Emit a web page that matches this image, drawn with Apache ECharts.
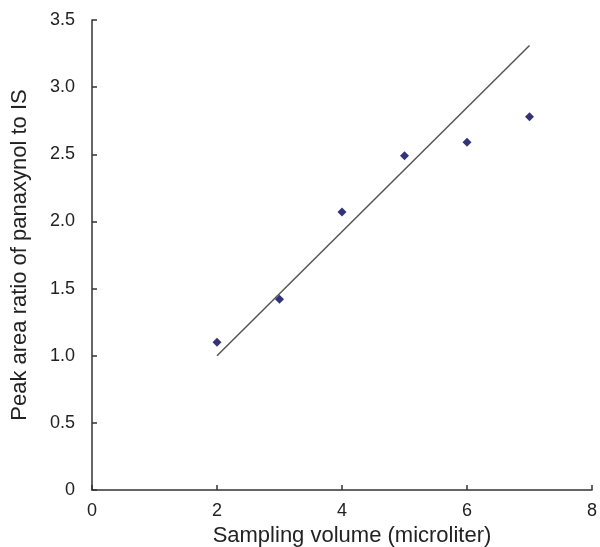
<!DOCTYPE html>
<html>
<head>
<meta charset="utf-8">
<script src="https://cdn.jsdelivr.net/npm/echarts@6/dist/echarts.min.js"></script>
<style>
  html, body { margin: 0; padding: 0; background: #fff; }
  #chart { width: 600px; height: 547px; }
</style>
</head>
<body>
<div id="chart"></div>
<script>
// sampling volume vs peak area ratio
var volumes = [2, 3, 4, 5, 6, 7];
var ratios = [1.10, 1.42, 2.07, 2.49, 2.59, 2.78];
// straight line drawn in the figure
var lineX = [2, 7];
var lineY = [1.0, 3.31];

var chart = echarts.init(document.getElementById('chart'));

var font = 'Liberation Sans, Arial, sans-serif';

chart.setOption({
    animation: false,
    grid: { left: 92, right: 8, top: 20, bottom: 57, outerBoundsMode: 'none', containLabel: false },
    xAxis: {
        type: 'value',
        min: 0, max: 8, interval: 2,
        name: 'Sampling volume (microliter)',
        nameLocation: 'middle',
        nameGap: 29,
        nameTextStyle: { fontFamily: font, fontSize: 22, color: '#222', padding: [0, 0, 0, 20] },
        axisLine: { show: true, lineStyle: { color: '#333', width: 1.5 } },
        axisTick: { show: true, inside: true, length: 5, lineStyle: { color: '#333', width: 1.5 } },
        axisLabel: { fontFamily: font, fontSize: 18, color: '#222', margin: 12 },
        splitLine: { show: false }
    },
    yAxis: {
        type: 'value',
        min: 0, max: 3.5, interval: 0.5,
        name: 'Peak area ratio of panaxynol to IS',
        nameLocation: 'middle',
        nameGap: 61,
        nameTextStyle: { fontFamily: font, fontSize: 22, color: '#222' },
        axisLine: { show: true, lineStyle: { color: '#333', width: 1.5 } },
        axisTick: { show: true, inside: true, length: 5, lineStyle: { color: '#333', width: 1.5 } },
        axisLabel: {
            fontFamily: font, fontSize: 18, color: '#222', margin: 17,
            formatter: function (v) {
                return v === 0 ? '0' : v.toFixed(1);
            }
        },
        splitLine: { show: false }
    },
    series: [
        {
            type: 'line',
            data: lineX.map(function (x, i) { return [x, lineY[i]]; }),
            showSymbol: false,
            lineStyle: { color: '#555', width: 1.5 },
            z: 1
        },
        {
            type: 'scatter',
            data: volumes.map(function (x, i) { return [x, ratios[i]]; }),
            symbol: 'diamond',
            symbolSize: 9,
            itemStyle: { color: '#000058' },
            z: 2
        }
    ]
});
</script>
</body>
</html>
